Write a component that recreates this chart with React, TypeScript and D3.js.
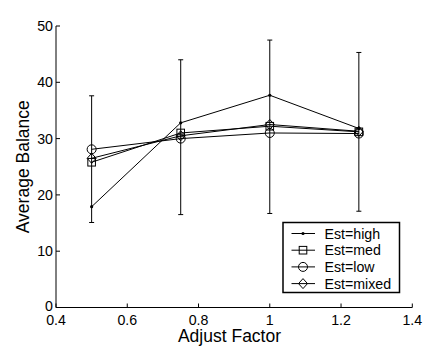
import React from "react";
import * as d3 from "d3";

const xValues = [0.5, 0.75, 1.0, 1.25];
const seriesNames = ["Est=high", "Est=med", "Est=low", "Est=mixed"];
const highValues = [17.9, 32.8, 37.7, 31.8];
const medValues = [25.8, 31.0, 32.2, 31.2];
const lowValues = [28.1, 30.0, 31.0, 30.9];
const mixedValues = [26.5, 30.5, 32.5, 31.3];
const errLower = [15.1, 16.5, 16.7, 17.1];
const errUpper = [37.6, 44.0, 47.5, 45.3];
const xTicks = [0.4, 0.6, 0.8, 1, 1.2, 1.4];
const yTicks = [0, 10, 20, 30, 40, 50];

const markers = ["dot", "square", "circle", "diamond"];

function Marker({ type, x, y }: { type: string; x: number; y: number }) {
  if (type === "dot") return <circle cx={x} cy={y} r={1.6} fill="#000" />;
  if (type === "square")
    return <rect x={x - 3.8} y={y - 3.8} width={7.6} height={7.6} fill="none" stroke="#000" strokeWidth={1} />;
  if (type === "circle") return <circle cx={x} cy={y} r={4.5} fill="none" stroke="#000" strokeWidth={1} />;
  return (
    <path
      d={`M${x},${y - 5}L${x + 4.5},${y}L${x},${y + 5}L${x - 4.5},${y}Z`}
      fill="none"
      stroke="#000"
      strokeWidth={1}
    />
  );
}

export default function App() {
  const W = 433, H = 349;
  const x = d3.scaleLinear().domain([0.4, 1.4]).range([56, 412.3]);
  const y = d3.scaleLinear().domain([0, 50]).range([307.5, 26]);
  const allSeries = [highValues, medValues, lowValues, mixedValues];
  const line = d3
    .line<number>()
    .x((_, i) => x(xValues[i]))
    .y((v) => y(v));
  const font = "'Liberation Sans', Arial, Helvetica, sans-serif";
  const legX = 283, legY = 222.5, legW = 116.5, legH = 70;
  const rowH = 16.7;
  return (
    <svg width={W} height={H} style={{ position: "absolute", left: 0, top: 0 }} fontFamily={font}>
      <rect width={W} height={H} fill="#fff" />
      {/* axes */}
      <line x1={x(0.4)} x2={x(1.4)} y1={y(0)} y2={y(0)} stroke="#000" strokeWidth={1} />
      <line x1={x(0.4)} x2={x(0.4)} y1={y(0)} y2={y(50)} stroke="#000" strokeWidth={1} />
      {xTicks.map((t) => (
        <g key={"xt" + t}>
          <line x1={x(t)} x2={x(t)} y1={y(0)} y2={y(0) - 4} stroke="#000" />
          <text x={x(t)} y={y(0) + 17} textAnchor="middle" fontSize={14.2} fill="#000">
            {String(t)}
          </text>
        </g>
      ))}
      {yTicks.map((t) => (
        <g key={"yt" + t}>
          <line x1={x(0.4)} x2={x(0.4) + 4} y1={y(t)} y2={y(t)} stroke="#000" />
          <text x={x(0.4) - 3} y={y(t) + (t === 0 ? 3.5 : 5)} textAnchor="end" fontSize={14.2} fill="#000">
            {String(t)}
          </text>
        </g>
      ))}
      <text x={229.5} y={342} textAnchor="middle" fontSize={17.5} fill="#000">
        Adjust Factor
      </text>
      <text
        transform={`translate(29,${(y(0) + y(50)) / 2}) rotate(-90)`}
        textAnchor="middle"
        fontSize={17.5}
        fill="#000"
      >
        Average Balance
      </text>
      {/* error bars */}
      {xValues.map((xv, i) => (
        <g key={"eb" + i} stroke="#000" strokeWidth={1}>
          <line x1={x(xv)} x2={x(xv)} y1={y(errLower[i])} y2={y(errUpper[i])} />
          <line x1={x(xv) - 2.5} x2={x(xv) + 2.5} y1={y(errLower[i])} y2={y(errLower[i])} />
          <line x1={x(xv) - 2.5} x2={x(xv) + 2.5} y1={y(errUpper[i])} y2={y(errUpper[i])} />
        </g>
      ))}
      {/* series */}
      {allSeries.map((s, si) => (
        <g key={"s" + si}>
          <path d={line(s) || ""} fill="none" stroke="#000" strokeWidth={1} />
          {s.map((v, i) => (
            <Marker key={i} type={markers[si]} x={x(xValues[i])} y={y(v)} />
          ))}
        </g>
      ))}
      {/* legend */}
      <rect x={legX} y={legY} width={legW} height={legH} fill="#fff" stroke="#000" strokeWidth={1.5} />
      {seriesNames.map((n, i) => {
        const cy = legY + 11 + i * rowH;
        return (
          <g key={"lg" + i}>
            <line x1={legX + 8.5} x2={legX + 32} y1={cy} y2={cy} stroke="#000" />
            <Marker type={markers[i]} x={legX + 20} y={cy} />
            <text x={legX + 41.5} y={cy + 5} fontSize={14.2} fill="#000">
              {n}
            </text>
          </g>
        );
      })}
    </svg>
  );
}
